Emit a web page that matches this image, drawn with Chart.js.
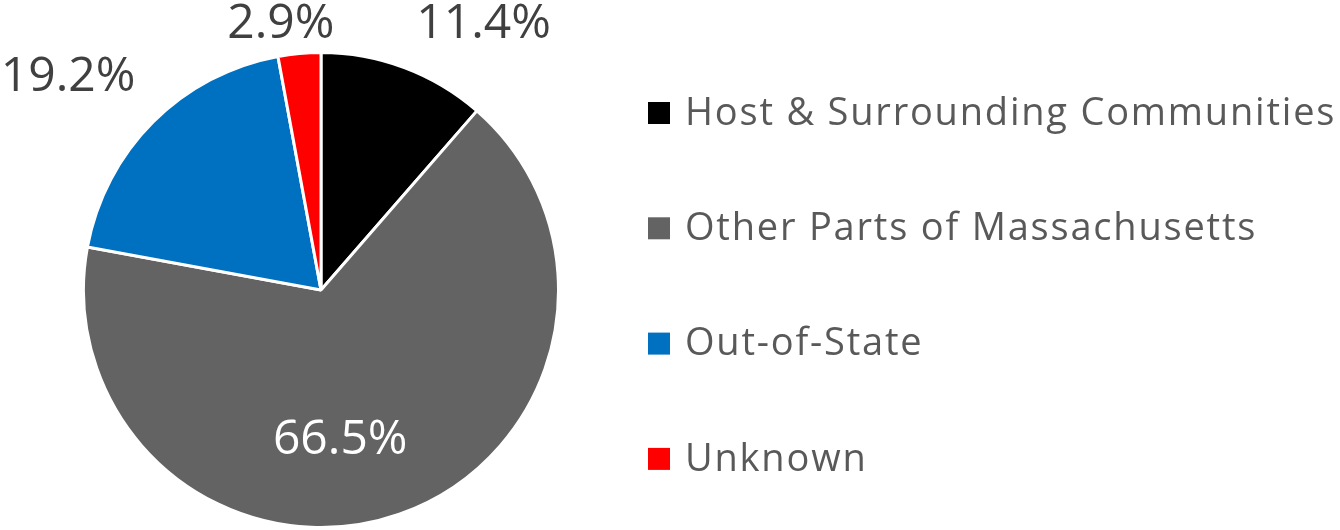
<!DOCTYPE html>
<html>
<head>
<meta charset="utf-8">
<script src="https://cdn.jsdelivr.net/npm/chart.js@4"></script>
<style>
  html, body { margin: 0; padding: 0; background: #ffffff; }
  #wrap { width: 1340px; height: 530px; }
</style>
</head>
<body>
<div id="wrap"><canvas id="graficoPie"></canvas></div>
<script>
var categorias = ['Host & Surrounding Communities', 'Other Parts of Massachusetts', 'Out-of-State', 'Unknown'];
var porcentajes = [11.4, 66.5, 19.2, 2.9];
var colores = ['#000000', '#636363', '#0070C0', '#FF0000'];

// posición de cada etiqueta: factor de radio y desfase de ángulo (grados)
var ubicacionEtiquetas = [
    { r: 1.31, da: 11,  color: '#404040' },
    { r: 0.64, da: 12,  color: '#ffffff' },
    { r: 1.39, da: -5,  color: '#404040' },
    { r: 1.13, da: -3.4, color: '#404040' }
];

var FUENTE = '"Open Sans", "Noto Sans", sans-serif';

var pluginEtiquetas = {
    id: 'etiquetas',
    afterDatasetsDraw: function (chart) {
        var ctx = chart.ctx;
        var meta = chart.getDatasetMeta(0);
        ctx.save();
        ctx.font = '48px ' + FUENTE;
        ctx.textAlign = 'center';
        ctx.textBaseline = 'middle';
        meta.data.forEach(function (arc, i) {
            var u = ubicacionEtiquetas[i];
            var mid = (arc.startAngle + arc.endAngle) / 2 + u.da * Math.PI / 180;
            var rr = arc.outerRadius * u.r;
            ctx.fillStyle = u.color;
            ctx.fillText(porcentajes[i].toFixed(1) + '%', arc.x + Math.cos(mid) * rr, arc.y + Math.sin(mid) * rr);
        });
        ctx.restore();
    }
};

var pluginLeyenda = {
    id: 'leyenda',
    afterDraw: function (chart) {
        var ctx = chart.ctx;
        var x0 = 648, y0 = 114, paso = 115.3, lado = 22;
        ctx.save();
        ctx.font = '38px ' + FUENTE;
        ctx.letterSpacing = '1.8px';
        ctx.textBaseline = 'middle';
        ctx.textAlign = 'left';
        categorias.forEach(function (c, i) {
            var y = y0 + i * paso;
            ctx.fillStyle = colores[i];
            ctx.fillRect(x0, y - lado / 2 - 1, lado, lado);
            ctx.fillStyle = '#595959';
            ctx.fillText(c, x0 + 37, y);
        });
        ctx.restore();
    }
};

new Chart(document.getElementById('graficoPie'), {
    type: 'pie',
    data: {
        labels: categorias,
        datasets: [{
            data: porcentajes,
            backgroundColor: colores,
            borderColor: '#ffffff',
            borderWidth: 3
        }]
    },
    options: {
        responsive: true,
        maintainAspectRatio: false,
        animation: false,
        layout: { padding: { left: 82, right: 780, top: 51, bottom: 1 } },
        plugins: { legend: { display: false }, tooltip: { enabled: false } }
    },
    plugins: [pluginEtiquetas, pluginLeyenda]
});
</script>
</body>
</html>
